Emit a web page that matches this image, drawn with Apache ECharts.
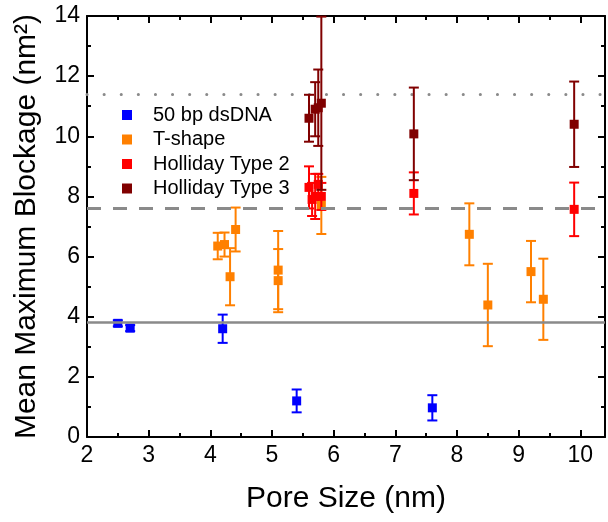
<!DOCTYPE html>
<html>
<head>
<meta charset="utf-8">
<script src="https://cdn.jsdelivr.net/npm/echarts@6/dist/echarts.min.js"></script>
<style>
  html, body { margin: 0; padding: 0; background: #fff; }
  #chart { width: 608px; height: 522px; }
</style>
</head>
<body>
<div id="chart"></div>
<script>
// 50 bp dsDNA
var dnaX   = [2.5, 2.7, 4.2, 5.4, 7.6];
var dnaY   = [3.78, 3.62, 3.6, 1.2, 0.97];
var dnaErr = [0.1, 0.1, 0.47, 0.38, 0.42];

// T-shape
var tX   = [4.12, 4.23, 4.32, 4.41, 5.1, 5.1, 5.8, 8.2, 8.5, 9.2, 9.4];
var tY   = [6.35, 6.4, 5.33, 6.9, 5.55, 5.2, 7.7, 6.74, 4.39, 5.5, 4.58];
var tErr = [0.44, 0.4, 0.95, 0.73, 1.3, 1.05, 0.95, 1.03, 1.37, 1.02, 1.35];

// Holliday Type 2
var h2X   = [5.6, 5.65, 5.7, 5.75, 5.8, 7.3, 9.9];
var h2Y   = [8.3, 7.9, 8.0, 8.4, 8.0, 8.1, 7.57];
var h2Err = [0.7, 0.55, 0.75, 0.35, 0.45, 0.7, 0.89];

// Holliday Type 3
var h3X   = [5.6, 5.7, 5.75, 5.8, 7.3, 9.9];
var h3Y   = [10.6, 10.9, 10.95, 11.1, 10.08, 10.4];
var h3Err = [0.78, 0.9, 1.27, 2.88, 1.54, 1.42];

// reference lines
var refLines = [3.8, 7.6, 11.4];

var names  = ['50 bp dsDNA', 'T-shape', 'Holliday Type 2', 'Holliday Type 3'];
var colors = ['#0000FF', '#FF8000', '#FF0000', '#800000'];

function zip(xs, ys, es) {
  var out = [];
  for (var i = 0; i < xs.length; i++) out.push([xs[i], ys[i], es[i]]);
  return out;
}

// error bar + square marker
function renderItem(params, api) {
  var x = api.value(0), y = api.value(1), e = api.value(2);
  var c  = api.coord([x, y]);
  var hi = api.coord([x, y + e]);
  var lo = api.coord([x, y - e]);
  var color = api.visual('color');
  var cap = 5;
  var st = { stroke: color, lineWidth: 2 };
  return {
    type: 'group',
    children: [
      { type: 'line', shape: { x1: c[0], y1: hi[1], x2: c[0], y2: lo[1] }, style: st },
      { type: 'line', shape: { x1: c[0] - cap, y1: hi[1], x2: c[0] + cap, y2: hi[1] }, style: st },
      { type: 'line', shape: { x1: c[0] - cap, y1: lo[1], x2: c[0] + cap, y2: lo[1] }, style: st },
      { type: 'rect', shape: { x: c[0] - 4.5, y: c[1] - 4.5, width: 9, height: 9 }, style: { fill: color } }
    ]
  };
}

var groups = [zip(dnaX, dnaY, dnaErr), zip(tX, tY, tErr), zip(h2X, h2Y, h2Err), zip(h3X, h3Y, h3Err)];

var series = [{
  type: 'line',
  data: [],
  silent: true,
  z: 1,
  markLine: {
    silent: true,
    symbol: 'none',
    label: { show: false },
    data: [
      { yAxis: refLines[0], lineStyle: { color: '#8a8a8a', width: 2.5, type: 'solid' } },
      { yAxis: refLines[1], lineStyle: { color: '#8a8a8a', width: 3, type: [14, 12] } },
      { yAxis: refLines[2], lineStyle: { color: '#8a8a8a', width: 3, type: [0.1, 17], cap: 'round' } }
    ]
  }
}];
for (var i = 0; i < names.length; i++) {
  series.push({
    name: names[i],
    type: 'custom',
    renderItem: renderItem,
    itemStyle: { color: colors[i] },
    encode: { x: 0, y: 1 },
    data: groups[i],
    z: 2 + i
  });
}

var font = 'Liberation Sans, Arial, sans-serif';
var axisBase = {
  axisLine: { show: true, onZero: false, lineStyle: { color: '#000', width: 2 } },
  axisTick: { show: true, inside: true, length: 7, lineStyle: { color: '#000', width: 2 } },
  minorTick: { show: true, splitNumber: 2, length: 4, lineStyle: { color: '#000', width: 2 } },
  splitLine: { show: false }
};
function ax(extra) { return Object.assign({}, axisBase, extra); }

var chart = echarts.init(document.getElementById('chart'));
chart.setOption({
  animation: false,
  grid: { left: 87, right: 1, top: 16, bottom: 85 },
  legend: {
    data: names,
    orient: 'vertical',
    left: 122,
    top: 105,
    padding: 0,
    icon: 'rect',
    itemWidth: 10,
    itemHeight: 10,
    itemGap: 4.5,
    textStyle: { fontFamily: font, fontSize: 20, lineHeight: 20, color: '#000', padding: [0, 0, 0, 16] }
  },
  xAxis: [
    ax({
      type: 'value', min: 2, max: 10.4, interval: 1, position: 'bottom',
      name: 'Pore Size (nm)', nameLocation: 'middle', nameGap: 47,
      nameTextStyle: { fontFamily: font, fontSize: 30, color: '#000' },
      axisLabel: {
        fontFamily: font, fontSize: 23, color: '#000', margin: 7,
        formatter: function (v) { return Math.abs(v - Math.round(v)) < 1e-6 ? String(Math.round(v)) : ''; }
      }
    }),
    ax({ type: 'value', min: 2, max: 10.4, interval: 1, position: 'top', axisLabel: { show: false } })
  ],
  yAxis: [
    ax({
      type: 'value', min: 0, max: 14, interval: 2, position: 'left',
      name: 'Mean Maximum Blockage (nm²)', nameLocation: 'middle', nameGap: 45,
      nameTextStyle: { fontFamily: font, fontSize: 30, color: '#000' },
      axisLabel: { fontFamily: font, fontSize: 23, color: '#000', margin: 7 }
    }),
    ax({ type: 'value', min: 0, max: 14, interval: 2, position: 'right', axisLabel: { show: false } })
  ],
  series: series
});
</script>
</body>
</html>
